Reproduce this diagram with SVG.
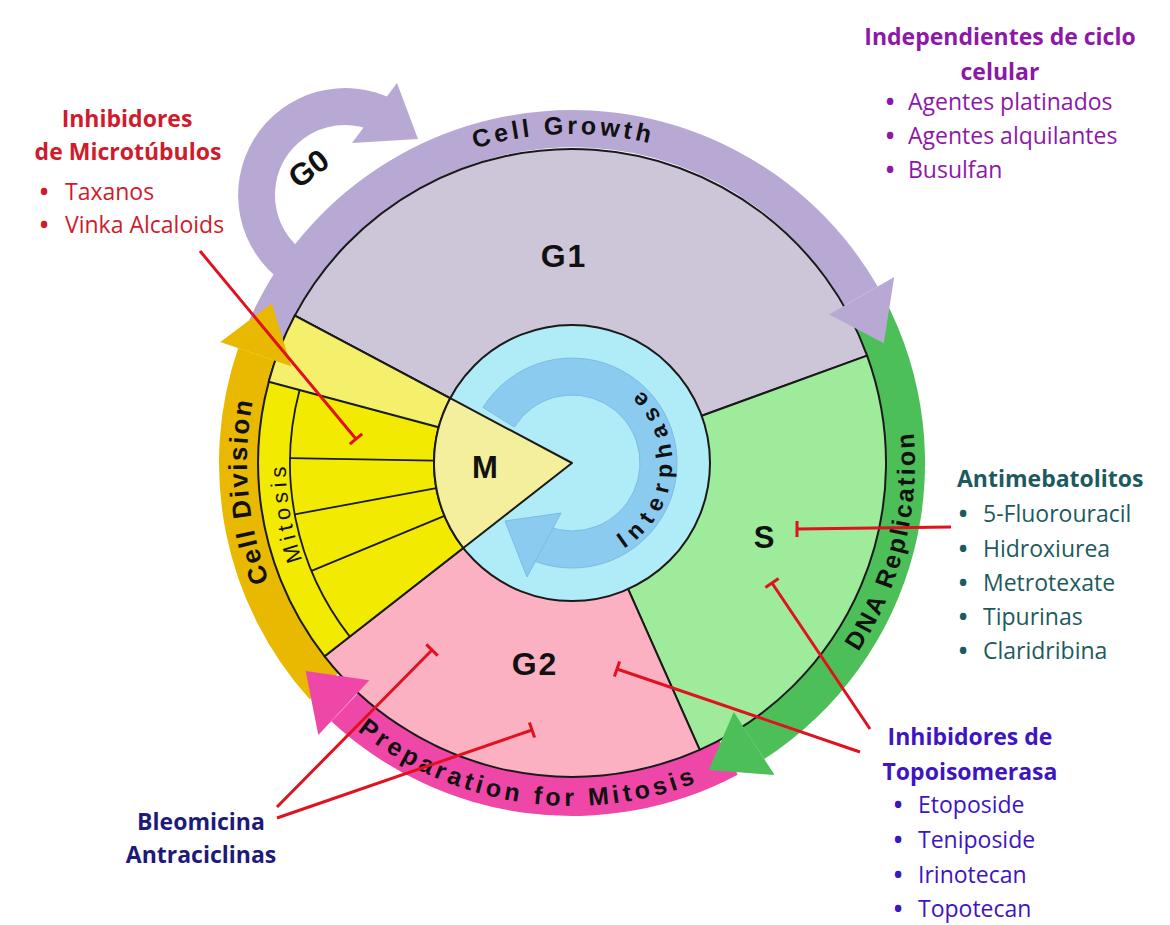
<svg xmlns="http://www.w3.org/2000/svg" width="1170" height="925" viewBox="0 0 1170 925">
<style>
.sec{stroke:#1a1a1a;stroke-width:2;stroke-linejoin:round}
.thin{stroke:#1a1a1a;stroke-width:1.8;fill:none}
.lbl{font-family:"Liberation Sans",Arial,sans-serif;font-weight:700;fill:#111}
.bt{font-family:"Liberation Sans",Arial,sans-serif;font-weight:700;font-size:25px;fill:#111}
.inh{stroke:#e0121f;stroke-width:3;fill:none;stroke-linecap:butt}
.os{font-family:"Open Sans","Liberation Sans",sans-serif;font-size:23px}
.hd{font-weight:700}
</style>
<defs>
<path id="p-growth" d="M287.1,298.5 A329,329 0 0,1 847.9,283.8"/>
<path id="p-dna" d="M689.3,785.3 A343,343 0 0,0 826.9,233.5"/>
<path id="p-prep" d="M261.1,608.0 A343,343 0 0,0 826.9,692.5"/>
<path id="p-div" d="M409.5,744.5 A325,325 0 0,1 363.1,214.0"/>
<path id="p-mit" d="M449.1,721.8 A286,286 0 0,1 369.8,260.8"/>
<path id="p-inter" d="M568.5,562.9 A100,100 0 0,0 582.5,363.5"/>
</defs>
<rect width="1170" height="925" fill="#ffffff"/>

<!-- outer phase bands -->
<g id="bands">
  <path id="band-growth" fill="#b8a8d4" d="M240.3,342.3 A353,353 0 0,1 877.7,286.5 L843.9,306.0 A310,310 0 0,0 280,357 Z"/>
  <path id="band-g0" fill="#b8a8d4" d="M283.6,282.6 A107,107 0 0,1 395.2,100.5 L377.9,133.2 A70,70 0 0,0 304.8,252.3 Z"/>
  <path id="band-dna" fill="#4dbf58" d="M883.7,297.3 A353,353 0 0,1 764.3,759.1 L740,722 A310,310 0 0,0 846,318 Z"/>
  <path id="band-prep" fill="#ef47a8" d="M737.7,774.7 A353,353 0 0,1 331.3,721.2 L361,690 A310,310 0 0,0 717,736 Z"/>
  <path id="band-div" fill="#e9b800" d="M309.7,699.2 A353,353 0 0,1 238.2,348.1 L279,362 A310,310 0 0,0 342,670 Z"/>
</g>

<!-- pie sectors -->
<g id="node-G1">
  <path class="sec" fill="#cdc5d8" d="M572,463 L294.8,315.6 A314,314 0 0,1 867.1,355.6 Z"/>
</g>
<g id="node-S">
  <path class="sec" fill="#9eeb9b" d="M572,463 L867.1,355.6 A314,314 0 0,1 699.7,749.8 Z"/>
</g>
<g id="node-G2">
  <path class="sec" fill="#fbb1c1" d="M572,463 L699.7,749.8 A314,314 0 0,1 324.6,656.3 Z"/>
</g>
<g id="node-mitosis">
  <path class="sec" fill="#f2ea00" d="M572,463 L324.6,656.3 A314,314 0 0,1 294.8,315.6 Z"/>
  <path class="sec" fill="#f5f06c" d="M572,463 L268.7,381.7 A314,314 0 0,1 294.8,315.6 Z"/>
  <path class="thin" d="M349.8,636.6 A282,282 0 0,1 299.6,390.0"/>
  <path class="thin" d="M434.0,460.6 L290.0,458.1 M436.3,488.1 L294.7,514.4 M444.5,515.8 L311.5,570.9"/>
  <text class="lbl" style="font-weight:400" font-size="22" letter-spacing="4.5"><textPath href="#p-mit" startOffset="50%" text-anchor="middle">Mitosis</textPath></text>
</g>

<!-- arrowheads of bands -->
<g id="band-heads">
  <polygon fill="#b8a8d4" points="397,83 418,139 352,143"/>
  <polygon fill="#b8a8d4" points="829.2,314.5 894.2,277.0 883.8,343.3"/>
  <polygon fill="#4dbf58" points="733.8,712.1 774.6,775.0 708.7,769.9"/>
  <polygon fill="#ef47a8" points="369.4,680.2 318.3,735.1 305.7,671.1"/>
  <polygon fill="#e9b800" points="291.2,366.3 220.3,341.9 271.8,303.4"/>
</g>

<!-- band labels -->
<g id="band-labels">
  <text class="bt" letter-spacing="3.6"><textPath href="#p-growth" startOffset="50%" text-anchor="middle">Cell Growth</textPath></text>
  <text class="bt" letter-spacing="2.5"><textPath href="#p-dna" startOffset="50%" text-anchor="middle">DNA Replication</textPath></text>
  <text class="bt" letter-spacing="3.9"><textPath href="#p-prep" startOffset="50%" text-anchor="middle">Preparation for Mitosis</textPath></text>
  <text class="bt" style="font-size:26px" letter-spacing="2.2"><textPath href="#p-div" startOffset="50%" text-anchor="middle">Cell Division</textPath></text>
  <text class="lbl" font-size="31" transform="translate(315,177) rotate(-37)" text-anchor="middle">G0</text>
</g>

<!-- interphase core -->
<g id="node-interphase">
  <circle cx="572" cy="463" r="138" fill="#b0ebf8" stroke="#1a1a1a" stroke-width="2"/>
  <path fill="#8ccbf0" stroke="#7cbbe4" stroke-width="1" d="M483.0,407.4 A105,105 0 1,1 532.7,560.4 L546.5,526.0 A68,68 0 1,0 514.3,427.0 Z"/>
  <polygon fill="#8ccbf0" stroke="#7cbbe4" stroke-width="1" points="561,513 505,521 527,577"/>
  <text class="lbl" font-size="23" letter-spacing="7.5"><textPath href="#p-inter" startOffset="50%" text-anchor="middle">Interphase</textPath></text>
</g>
<g id="node-M">
  <path class="sec" fill="#f3ef9c" d="M572,463 L450.2,398.2 A138,138 0 0,0 463.3,548.0 Z"/>
  <text class="lbl" font-size="31" x="485" y="478" text-anchor="middle">M</text>
</g>

<!-- sector labels -->
<g id="sector-labels">
  <text class="lbl" font-size="32" letter-spacing="2" x="564" y="267" text-anchor="middle">G1</text>
  <text class="lbl" font-size="31" x="764" y="548" text-anchor="middle">S</text>
  <text class="lbl" font-size="32" letter-spacing="2" x="535" y="675" text-anchor="middle">G2</text>
</g>

<!-- inhibitor connectors -->
<g id="connectors">
  <path class="inh" d="M200,251 L356,439 M349.8,444.1 L362.2,433.9"/>
  <path class="inh" d="M951,527 L797,529 M797,521 L797,537"/>
  <path class="inh" d="M870,729 L772,583 M778.6,578.5 L765.4,587.5"/>
  <path class="inh" d="M860,752 L617,669 M619.6,661.4 L614.4,676.6"/>
  <path class="inh" d="M277,807 L432,650 M437.7,655.6 L426.3,644.4"/>
  <path class="inh" d="M277,818 L532,730 M534.6,737.6 L529.4,722.4"/>
</g>

<!-- drug group labels -->
<g id="label-microtubulos" class="os" fill="#cf1b2b">
  <text class="hd" x="127" y="127" text-anchor="middle">Inhibidores</text>
  <text class="hd" x="128" y="160" text-anchor="middle">de Microtúbulos</text>
  <text class="hd" x="44" y="200" text-anchor="middle">•</text><text x="65" y="200">Taxanos</text>
  <text class="hd" x="44" y="233" text-anchor="middle">•</text><text x="65" y="233">Vinka Alcaloids</text>
</g>
<g id="label-independientes" class="os" fill="#8e17a8">
  <text class="hd" x="1000" y="45" text-anchor="middle">Independientes de ciclo</text>
  <text class="hd" x="1000" y="80" text-anchor="middle">celular</text>
  <text class="hd" x="890" y="110" text-anchor="middle">•</text><text x="908" y="110">Agentes platinados</text>
  <text class="hd" x="890" y="144" text-anchor="middle">•</text><text x="908" y="144">Agentes alquilantes</text>
  <text class="hd" x="890" y="178" text-anchor="middle">•</text><text x="908" y="178">Busulfan</text>
</g>
<g id="label-antimetabolitos" class="os" fill="#1d5a5e">
  <text class="hd" x="957" y="487">Antimebatolitos</text>
  <text class="hd" x="963" y="522" text-anchor="middle">•</text><text x="983" y="522">5-Fluorouracil</text>
  <text class="hd" x="963" y="557" text-anchor="middle">•</text><text x="983" y="557">Hidroxiurea</text>
  <text class="hd" x="963" y="591" text-anchor="middle">•</text><text x="983" y="591">Metrotexate</text>
  <text class="hd" x="963" y="625" text-anchor="middle">•</text><text x="983" y="625">Tipurinas</text>
  <text class="hd" x="963" y="659" text-anchor="middle">•</text><text x="983" y="659">Claridribina</text>
</g>
<g id="label-topoisomerasa" class="os" fill="#3d15c2">
  <text class="hd" x="970" y="745" text-anchor="middle">Inhibidores de</text>
  <text class="hd" x="970" y="780" text-anchor="middle">Topoisomerasa</text>
  <text class="hd" x="898" y="813" text-anchor="middle">•</text><text x="918" y="813">Etoposide</text>
  <text class="hd" x="898" y="848" text-anchor="middle">•</text><text x="918" y="848">Teniposide</text>
  <text class="hd" x="898" y="883" text-anchor="middle">•</text><text x="918" y="883">Irinotecan</text>
  <text class="hd" x="898" y="917" text-anchor="middle">•</text><text x="918" y="917">Topotecan</text>
</g>
<g id="label-bleomicina" class="os" fill="#1e1a7a">
  <text class="hd" x="201" y="830" text-anchor="middle">Bleomicina</text>
  <text class="hd" x="201" y="863" text-anchor="middle">Antraciclinas</text>
</g>
</svg>
